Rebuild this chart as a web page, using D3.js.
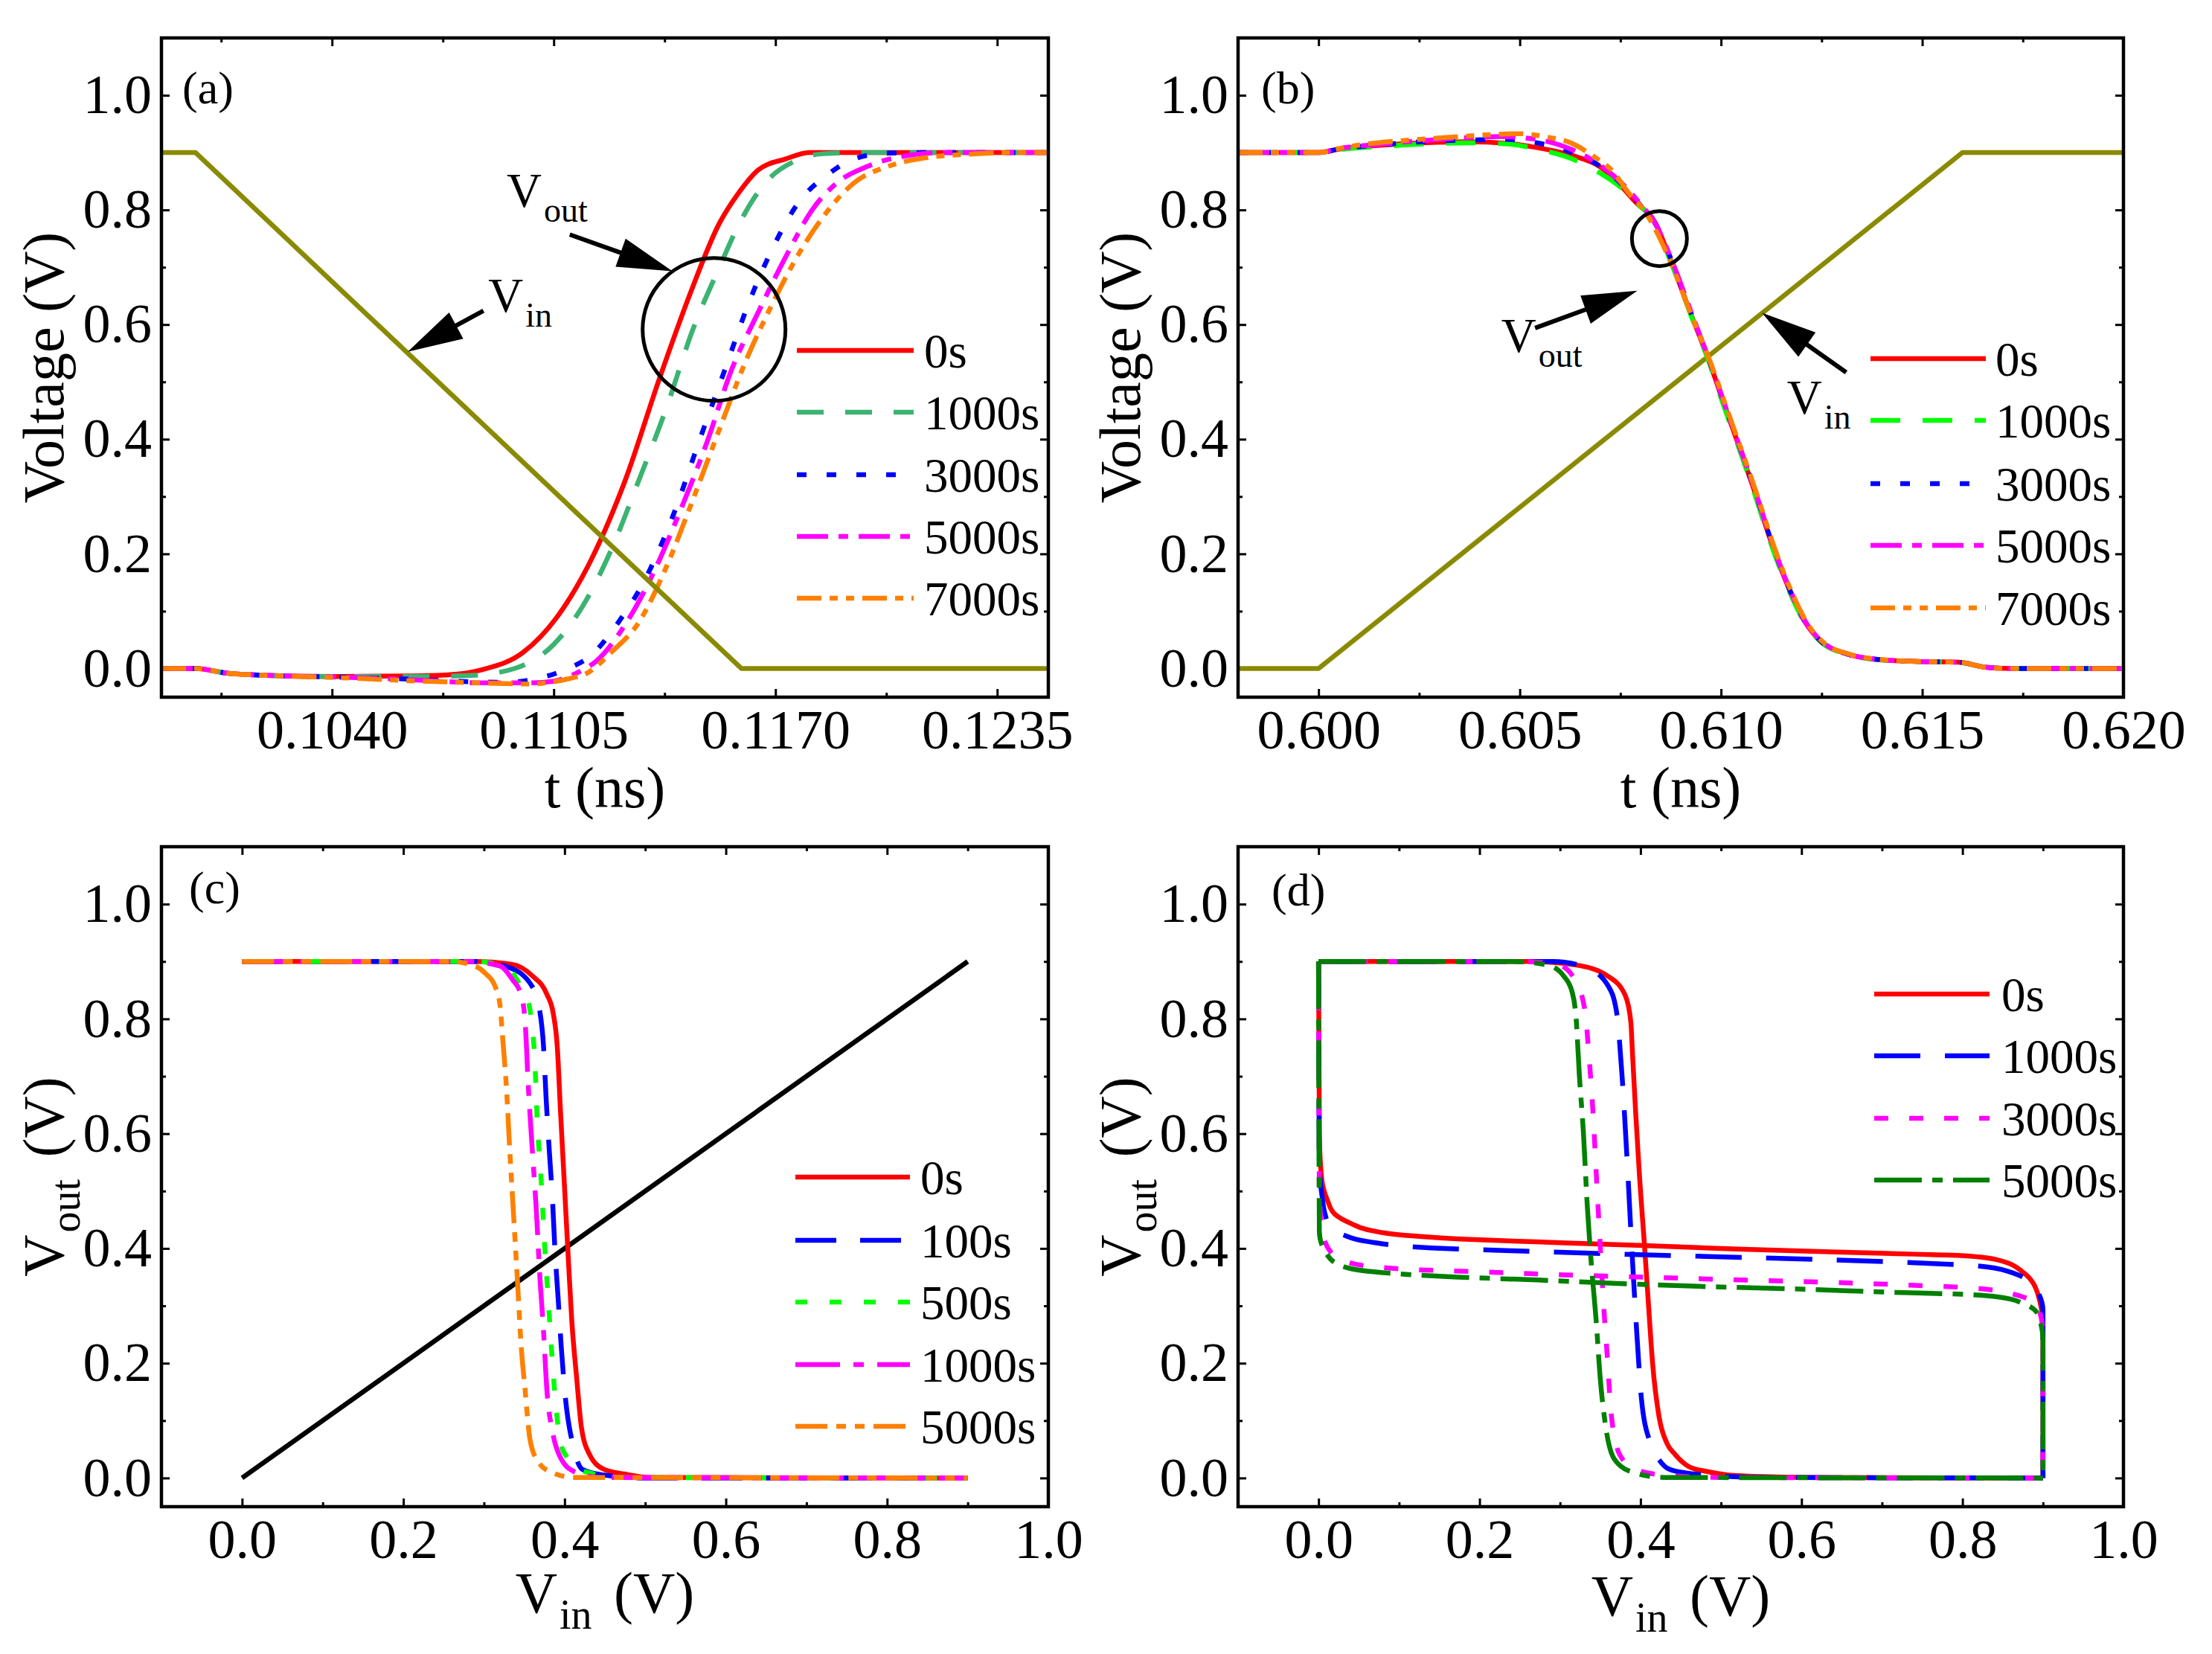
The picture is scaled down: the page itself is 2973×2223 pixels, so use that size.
<!DOCTYPE html>
<html>
<head>
<meta charset="utf-8">
<script src="https://cdn.jsdelivr.net/npm/d3@7/dist/d3.min.js"></script>
<style>
body { margin: 0; background: #fff; }
</style>
</head>
<body>
<script>
var W = 2973, H = 2223;
var FONT = '"Liberation Serif", "Times New Roman", serif';

// ---------- data ----------
// (a) falling input, t in ns
var vinA = [[0.099, 0.9], [0.100, 0.9], [0.116, 0], [0.125, 0]];
var outA0 = [[0.0990, 0], [0.1000, 0], [0.1009, -0.008], [0.1021, -0.012], [0.1042, -0.014], [0.1062, -0.013], [0.1074, -0.011], [0.1084, -0.002], [0.1096, 0.028], [0.1106, 0.09], [0.1116, 0.19], [0.1126, 0.329], [0.1136, 0.506], [0.1145, 0.654], [0.11535, 0.776], [0.1159, 0.828], [0.1165, 0.87], [0.1173, 0.889], [0.1180, 0.9], [0.125, 0.9]];
var outA1000 = [[0.0990, 0], [0.1000, 0], [0.1009, -0.008], [0.1021, -0.012], [0.1042, -0.014], [0.1067, -0.014], [0.1081, -0.012], [0.1094, 0.001], [0.1105, 0.042], [0.11145, 0.119], [0.1122, 0.209], [0.1130, 0.329], [0.1138, 0.454], [0.11457, 0.59], [0.11535, 0.699], [0.1160, 0.783], [0.1167, 0.847], [0.1176, 0.886], [0.1184, 0.898], [0.1195, 0.9], [0.125, 0.9]];
var outA3000 = [[0.0990, 0], [0.1000, 0], [0.1009, -0.008], [0.1021, -0.012], [0.1042, -0.015], [0.1065, -0.019], [0.1080, -0.023], [0.1091, -0.024], [0.1099, -0.019], [0.1108, -0.003], [0.11165, 0.026], [0.1124, 0.081], [0.1132, 0.158], [0.1140, 0.267], [0.11476, 0.396], [0.11554, 0.525], [0.1162, 0.635], [0.1169, 0.731], [0.1177, 0.815], [0.1185, 0.86], [0.1193, 0.889], [0.1203, 0.899], [0.1215, 0.9], [0.125, 0.9]];
var outA5000 = [[0.0990, 0], [0.1000, 0], [0.1009, -0.008], [0.1021, -0.012], [0.1042, -0.015], [0.1065, -0.02], [0.1084, -0.025], [0.1098, -0.025], [0.1105, -0.022], [0.1109, -0.015], [0.1113, -0.004], [0.11175, 0.013], [0.1125, 0.068], [0.1134, 0.164], [0.1142, 0.274], [0.1150, 0.396], [0.1157, 0.519], [0.1165, 0.622], [0.1173, 0.718], [0.1181, 0.802], [0.1188, 0.847], [0.1197, 0.876], [0.1206, 0.892], [0.1220, 0.9], [0.125, 0.9]];
var outA7000 = [[0.0990, 0], [0.1000, 0], [0.1009, -0.008], [0.1021, -0.012], [0.1042, -0.016], [0.1066, -0.022], [0.1077, -0.024], [0.1098, -0.027], [0.1105, -0.023], [0.1110, -0.017], [0.11145, -0.009], [0.1122, 0.029], [0.1130, 0.081], [0.1138, 0.177], [0.11457, 0.293], [0.11535, 0.416], [0.1161, 0.532], [0.1169, 0.635], [0.1177, 0.725], [0.1185, 0.796], [0.1193, 0.847], [0.1203, 0.876], [0.1214, 0.891], [0.1226, 0.897], [0.1240, 0.9], [0.125, 0.9]];

// (b) rising input
var vinB = [[0.598, 0], [0.600, 0], [0.616, 0.9], [0.620, 0.9]];
var outB0 = [[0.598, 0.9], [0.600, 0.9], [0.6005, 0.906], [0.6016, 0.913], [0.6026, 0.917], [0.6037, 0.919], [0.6047, 0.916], [0.6054, 0.909], [0.6063, 0.895], [0.6070, 0.875], [0.6075, 0.843], [0.6079, 0.812], [0.60834, 0.781], [0.60875, 0.712], [0.60927, 0.615], [0.60969, 0.539], [0.6101, 0.456], [0.61042, 0.393], [0.61083, 0.31], [0.61125, 0.22], [0.61166, 0.144], [0.61208, 0.082], [0.61249, 0.047], [0.61311, 0.026], [0.61384, 0.016], [0.6150, 0.012], [0.6159, 0.011], [0.6165, 0.003], [0.6172, 0], [0.620, 0]];
var outB1000 = [[0.598, 0.9], [0.600, 0.9], [0.6005, 0.905], [0.6016, 0.911], [0.6026, 0.915], [0.6037, 0.917], [0.6047, 0.915], [0.6055, 0.905], [0.6063, 0.889], [0.6070, 0.864], [0.6075, 0.84], [0.6079, 0.812], [0.60834, 0.779], [0.60875, 0.71], [0.60927, 0.613], [0.60969, 0.537], [0.6101, 0.452], [0.61042, 0.39], [0.61083, 0.306], [0.61125, 0.216], [0.61166, 0.141], [0.61208, 0.08], [0.61249, 0.046], [0.61311, 0.025], [0.61384, 0.016], [0.6150, 0.012], [0.6159, 0.011], [0.6166, 0.002], [0.6173, 0], [0.620, 0]];
var outB3000 = [[0.598, 0.9], [0.600, 0.9], [0.6005, 0.906], [0.6016, 0.914], [0.6026, 0.919], [0.6037, 0.922], [0.6047, 0.923], [0.6055, 0.916], [0.6063, 0.9], [0.6070, 0.876], [0.6076, 0.84], [0.6080, 0.808], [0.60838, 0.775], [0.60878, 0.71], [0.6093, 0.612], [0.60972, 0.535], [0.61013, 0.452], [0.61045, 0.389], [0.61086, 0.306], [0.61128, 0.216], [0.61169, 0.14], [0.61211, 0.079], [0.61252, 0.045], [0.61314, 0.025], [0.61387, 0.016], [0.6150, 0.012], [0.6159, 0.011], [0.6166, 0.002], [0.6173, 0], [0.620, 0]];
var outB5000 = [[0.598, 0.9], [0.600, 0.9], [0.6005, 0.907], [0.6016, 0.915], [0.6026, 0.921], [0.6037, 0.926], [0.6045, 0.928], [0.6055, 0.922], [0.6063, 0.905], [0.6070, 0.878], [0.6076, 0.842], [0.6080, 0.81], [0.6084, 0.772], [0.6088, 0.708], [0.60932, 0.61], [0.60974, 0.532], [0.61015, 0.449], [0.61047, 0.386], [0.61088, 0.303], [0.6113, 0.213], [0.61171, 0.138], [0.61213, 0.078], [0.61254, 0.045], [0.61316, 0.025], [0.61389, 0.016], [0.6150, 0.012], [0.6159, 0.011], [0.6166, 0.002], [0.6173, 0], [0.620, 0]];
var outB7000 = [[0.598, 0.9], [0.600, 0.9], [0.6005, 0.907], [0.6011, 0.914], [0.6021, 0.921], [0.6031, 0.926], [0.6042, 0.931], [0.6050, 0.933], [0.6056, 0.928], [0.6063, 0.916], [0.6068, 0.895], [0.6073, 0.868], [0.6077, 0.83], [0.6081, 0.798], [0.60865, 0.725], [0.60927, 0.615], [0.60976, 0.53], [0.61018, 0.446], [0.6105, 0.383], [0.61091, 0.3], [0.61133, 0.21], [0.61174, 0.136], [0.61216, 0.077], [0.61257, 0.044], [0.61319, 0.025], [0.61392, 0.016], [0.6150, 0.012], [0.6159, 0.011], [0.6166, 0.002], [0.6173, 0], [0.620, 0]];

// (c) transfer curves, Vin vs Vout
var unityLine = [[0, 0], [0.9, 0.9]];
var vtcC0 = [[0, 0.9], [0.289, 0.9], [0.335, 0.895], [0.36, 0.875], [0.378, 0.843], [0.386, 0.809], [0.391, 0.75], [0.395, 0.637], [0.4, 0.505], [0.405, 0.372], [0.409, 0.273], [0.415, 0.174], [0.421, 0.087], [0.431, 0.041], [0.449, 0.015], [0.474, 0.007], [0.505, 0.001], [0.9, 0]];
var vtcC100 = [[0, 0.9], [0.289, 0.9], [0.332, 0.889], [0.36, 0.856], [0.369, 0.816], [0.374, 0.75], [0.377, 0.664], [0.381, 0.571], [0.385, 0.485], [0.388, 0.399], [0.392, 0.313], [0.396, 0.226], [0.401, 0.14], [0.411, 0.054], [0.422, 0.015], [0.449, 0.005], [0.5, 0], [0.9, 0]];
var vtcC500 = [[0, 0.9], [0.289, 0.9], [0.329, 0.889], [0.346, 0.856], [0.354, 0.836], [0.36, 0.783], [0.363, 0.73], [0.366, 0.624], [0.371, 0.518], [0.375, 0.412], [0.38, 0.306], [0.385, 0.2], [0.391, 0.101], [0.398, 0.048], [0.425, 0.011], [0.475, 0.001], [0.9, 0]];
var vtcC1000 = [[0, 0.9], [0.28, 0.9], [0.32, 0.892], [0.335, 0.869], [0.346, 0.842], [0.351, 0.796], [0.355, 0.683], [0.36, 0.571], [0.365, 0.465], [0.369, 0.359], [0.374, 0.253], [0.378, 0.154], [0.385, 0.081], [0.394, 0.038], [0.412, 0.011], [0.443, 0.001], [0.9, 0]];
var vtcC5000 = [[0, 0.9], [0.26, 0.9], [0.289, 0.892], [0.302, 0.879], [0.314, 0.856], [0.32, 0.823], [0.323, 0.77], [0.328, 0.677], [0.332, 0.571], [0.337, 0.452], [0.342, 0.332], [0.346, 0.233], [0.351, 0.154], [0.357, 0.068], [0.366, 0.031], [0.382, 0.011], [0.412, 0.001], [0.9, 0]];

// (d) butterfly: each VTC is drawn as is and mirrored
var vtcD0 = [[0, 0.9], [0.263, 0.9], [0.319, 0.894], [0.36, 0.874], [0.381, 0.841], [0.388, 0.794], [0.39, 0.74], [0.394, 0.636], [0.399, 0.52], [0.405, 0.404], [0.41, 0.3], [0.415, 0.2], [0.423, 0.107], [0.433, 0.06], [0.443, 0.041], [0.46, 0.02], [0.484, 0.011], [0.52, 0.004], [0.6, 0.001], [0.9, 0]];
var vtcD1000 = [[0, 0.9], [0.291, 0.9], [0.332, 0.89], [0.36, 0.857], [0.37, 0.814], [0.377, 0.702], [0.384, 0.537], [0.389, 0.404], [0.396, 0.239], [0.401, 0.14], [0.412, 0.061], [0.424, 0.03], [0.436, 0.015], [0.46, 0.008], [0.484, 0.005], [0.55, 0.001], [0.9, 0]];
var vtcD3000 = [[0, 0.9], [0.25, 0.9], [0.298, 0.894], [0.319, 0.867], [0.331, 0.814], [0.336, 0.735], [0.341, 0.636], [0.346, 0.504], [0.35, 0.404], [0.354, 0.305], [0.359, 0.206], [0.363, 0.12], [0.368, 0.07], [0.374, 0.041], [0.394, 0.015], [0.429, 0.005], [0.5, 0.001], [0.9, 0]];
var vtcD5000 = [[0, 0.9], [0.24, 0.9], [0.284, 0.894], [0.305, 0.874], [0.315, 0.847], [0.32, 0.801], [0.324, 0.702], [0.329, 0.603], [0.334, 0.471], [0.339, 0.371], [0.345, 0.272], [0.35, 0.173], [0.357, 0.087], [0.367, 0.034], [0.388, 0.011], [0.429, 0.001], [0.9, 0]];

var labelsAB = ["0s", "1000s", "3000s", "5000s", "7000s"];
var labelsC = ["0s", "100s", "500s", "1000s", "5000s"];
var labelsD = ["0s", "1000s", "3000s", "5000s"];

var yMajor = [0, 0.2, 0.4, 0.6, 0.8, 1.0];
var yMinor = [0.1, 0.3, 0.5, 0.7, 0.9];

// annotation anchors, data coordinates
var arrowsA = [[[0.11097, 0.757], [0.11398, 0.693]], [[0.10844, 0.624], [0.10622, 0.5526]]];
var textA = [[0.10912, 0.805, "out"], [0.10858, 0.622, "in"]];
var ringA = [0.1152, 0.5915];
var arrowsB = [[[0.60538, 0.594], [0.60792, 0.659]], [[0.61311, 0.5166], [0.61102, 0.6205]]];
var textB = [[0.60454, 0.5526, "out"], [0.61164, 0.445, "in"]];
var ringB = [0.60847, 0.75];

// ---------- styles ----------
var RED = "#ff0000", BLUE = "#0000ff", MAG = "#ff00ff", ORG = "#ff8000", OLIVE = "#8a8a00";
var stylesA = [
    {color: RED, dash: null},
    {color: "#3cb371", dash: "36,29"},
    {color: BLUE, dash: "13,27"},
    {color: MAG, dash: "42,14,13,14"},
    {color: ORG, dash: "33,11,11,11,11,11"}
];
var stylesB = [
    {color: RED, dash: null},
    {color: "#00ff00", dash: "40,30"},
    {color: BLUE, dash: "13,27"},
    {color: MAG, dash: "42,14,13,14"},
    {color: ORG, dash: "33,11,11,11,11,11"}
];
var stylesC = [
    {color: RED, dash: null},
    {color: BLUE, dash: "55,32"},
    {color: "#00ff00", dash: "16,30"},
    {color: MAG, dash: "60,18,14,18"},
    {color: ORG, dash: "43,12,13,12,13,12"}
];
var stylesD = [
    {color: RED, dash: null},
    {color: BLUE, dash: "62,33"},
    {color: MAG, dash: "19,28"},
    {color: "#008000", dash: "64,14,14,14"}
];
var straight = {color: OLIVE, dash: null, linear: true};

var svg = d3.select("body")
    .append("svg")
    .attr("width", W)
    .attr("height", H)
    .style("background", "#fff");

function setupPanel(p) {
    var x = d3.scaleLinear().domain(p.xd).range([p.x0, p.x1]);
    var y = d3.scaleLinear().domain([-0.05, 1.1]).range([p.y1, p.y0]);
    var g = svg.append("g");

    g.append("g").attr("class", "ax").attr("transform", "translate(0," + p.y1 + ")")
        .call(d3.axisBottom(x).tickValues(p.xt).tickFormat(d3.format(p.xf))
            .tickSizeInner(-11).tickSizeOuter(0).tickPadding(16));
    g.append("g").attr("class", "ax").attr("transform", "translate(0," + p.y1 + ")")
        .call(d3.axisBottom(x).tickValues(p.xm).tickFormat("").tickSizeInner(-6).tickSizeOuter(0));
    g.append("g").attr("class", "ax").attr("transform", "translate(0," + p.y0 + ")")
        .call(d3.axisTop(x).tickValues(p.xt).tickFormat("").tickSizeInner(-11).tickSizeOuter(0));
    g.append("g").attr("class", "ax").attr("transform", "translate(0," + p.y0 + ")")
        .call(d3.axisTop(x).tickValues(p.xm).tickFormat("").tickSizeInner(-6).tickSizeOuter(0));
    g.append("g").attr("class", "ax").attr("transform", "translate(" + p.x0 + ",0)")
        .call(d3.axisLeft(y).tickValues(yMajor).tickFormat(d3.format(".1f"))
            .tickSizeInner(-11).tickSizeOuter(0).tickPadding(13));
    g.append("g").attr("class", "ax").attr("transform", "translate(" + p.x0 + ",0)")
        .call(d3.axisLeft(y).tickValues(yMinor).tickFormat("").tickSizeInner(-6).tickSizeOuter(0));
    g.append("g").attr("class", "ax").attr("transform", "translate(" + p.x1 + ",0)")
        .call(d3.axisRight(y).tickValues(yMajor).tickFormat("").tickSizeInner(-11).tickSizeOuter(0));
    g.append("g").attr("class", "ax").attr("transform", "translate(" + p.x1 + ",0)")
        .call(d3.axisRight(y).tickValues(yMinor).tickFormat("").tickSizeInner(-6).tickSizeOuter(0));

    g.selectAll(".ax .domain").remove();
    g.selectAll(".ax line").attr("stroke", "#000").attr("stroke-width", 3);
    g.selectAll(".ax text")
        .attr("font-size", 74)
        .attr("font-family", FONT)
        .attr("fill", "#000");

    var plot = g.append("g");
    var top = g.append("g");

    top.append("rect")
        .attr("x", p.x0).attr("y", p.y0)
        .attr("width", p.x1 - p.x0).attr("height", p.y1 - p.y0)
        .attr("fill", "none").attr("stroke", "#000").attr("stroke-width", 4.5);

    top.append("text")
        .attr("x", p.x0 + p.labX).attr("y", p.labY)
        .attr("font-family", FONT).attr("font-size", 62)
        .text(p.label);

    return {x: x, y: y, g: plot, top: top, p: p};
}

// axis title with optional subscript
function title(P, parts, horizontal) {
    var p = P.p, t;
    if (horizontal) {
        t = P.top.append("text")
            .attr("x", (p.x0 + p.x1) / 2).attr("y", p.y1 + p.titleDy);
    } else {
        t = P.top.append("text")
            .attr("transform", "translate(" + (p.x0 - 132) + "," + ((p.y0 + p.y1) / 2) + ") rotate(-90)");
    }
    t.attr("text-anchor", "middle").attr("font-family", FONT).attr("font-size", 78);
    t.append("tspan").text(parts[0]);
    if (parts.length > 1) {
        t.append("tspan").attr("font-size", 56).attr("dy", 22).attr("dx", 3).text(parts[1]);
        t.append("tspan").attr("dy", -22).attr("dx", 10).text(parts[2]);
    }
}

function drawCurve(P, pts, st, mirror) {
    var gen;
    if (mirror) {
        gen = d3.line().x(function (d) { return P.x(d[1]); })
            .y(function (d) { return P.y(d[0]); })
            .curve(d3.curveMonotoneY);
        pts = pts.slice().reverse();
    } else {
        gen = d3.line().x(function (d) { return P.x(d[0]); })
            .y(function (d) { return P.y(d[1]); })
            .curve(st.linear ? d3.curveLinear : d3.curveMonotoneX);
    }
    P.g.append("path")
        .datum(pts)
        .attr("d", gen)
        .attr("fill", "none")
        .attr("stroke", st.color)
        .attr("stroke-width", 6.5)
        .attr("stroke-linejoin", "round")
        .attr("stroke-dasharray", st.dash);
}

function legend(P, labels, styles, L) {
    var p = P.p;
    labels.forEach(function (lab, i) {
        var yy = p.y0 + L.rows[i];
        P.top.append("line")
            .attr("x1", p.x0 + L.lx0).attr("x2", p.x0 + L.lx1)
            .attr("y1", yy).attr("y2", yy)
            .attr("stroke", styles[i].color).attr("stroke-width", 6.5)
            .attr("stroke-dasharray", styles[i].dash);
        P.top.append("text")
            .attr("x", p.x0 + L.tx).attr("y", yy).attr("dy", "0.35em")
            .attr("font-family", FONT).attr("font-size", 65)
            .text(lab);
    });
}

function arrow(P, a) {
    var x1 = P.x(a[0][0]), y1 = P.y(a[0][1]), x2 = P.x(a[1][0]), y2 = P.y(a[1][1]);
    var dx = x2 - x1, dy = y2 - y1, len = Math.sqrt(dx * dx + dy * dy);
    var ux = dx / len, uy = dy / len, hl = 74, hw = 20;
    var bx = x2 - ux * hl, by = y2 - uy * hl;
    P.top.append("line")
        .attr("x1", x1).attr("y1", y1).attr("x2", bx + ux * 6).attr("y2", by + uy * 6)
        .attr("stroke", "#000").attr("stroke-width", 6);
    P.top.append("polygon")
        .attr("points", [[x2, y2], [bx - uy * hw, by + ux * hw], [bx + uy * hw, by - ux * hw]].join(" "))
        .attr("fill", "#000");
}

function note(P, t) {
    var el = P.top.append("text")
        .attr("x", P.x(t[0])).attr("y", P.y(t[1]))
        .attr("font-family", FONT).attr("font-size", 65);
    el.append("tspan").text("V");
    el.append("tspan").attr("font-size", 46).attr("dy", 20).attr("dx", 3).text(t[2]);
}

function ring(P, c, r) {
    P.top.append("circle")
        .attr("cx", P.x(c[0])).attr("cy", P.y(c[1])).attr("r", r)
        .attr("fill", "none").attr("stroke", "#000").attr("stroke-width", 5);
}

// ---------- panel (a) ----------
var A = setupPanel({x0: 217, x1: 1409, y0: 51, y1: 937, xd: [0.099, 0.125],
    xt: [0.1040, 0.1105, 0.1170, 0.1235], xm: [0.10075, 0.10725, 0.11375, 0.12025], xf: ".4f",
    label: "(a)", labX: 28, labY: 139, titleDy: 148});
[outA0, outA1000, outA3000, outA5000, outA7000].forEach(function (s, i) { drawCurve(A, s, stylesA[i]); });
drawCurve(A, vinA, straight);
title(A, ["t (ns)"], true);
title(A, ["Voltage (V)"], false);
legend(A, labelsAB, stylesA, {lx0: 854, lx1: 1011, tx: 1025, rows: [420, 503, 587, 670, 753]});
arrowsA.forEach(function (a) { arrow(A, a); });
textA.forEach(function (t) { note(A, t); });
ring(A, ringA, 96);

// ---------- panel (b) ----------
var B = setupPanel({x0: 1664, x1: 2854, y0: 51, y1: 937, xd: [0.598, 0.620],
    xt: [0.600, 0.605, 0.610, 0.615, 0.620], xm: [0.6025, 0.6075, 0.6125, 0.6175], xf: ".3f",
    label: "(b)", labX: 31, labY: 139, titleDy: 148});
drawCurve(B, vinB, straight);
[outB0, outB1000, outB3000, outB5000, outB7000].forEach(function (s, i) { drawCurve(B, s, stylesB[i]); });
title(B, ["t (ns)"], true);
title(B, ["Voltage (V)"], false);
legend(B, labelsAB, stylesB, {lx0: 850, lx1: 1005, tx: 1018, rows: [431, 514, 599, 682, 766]});
arrowsB.forEach(function (a) { arrow(B, a); });
textB.forEach(function (t) { note(B, t); });
ring(B, ringB, 37);

// ---------- panel (c) ----------
var C = setupPanel({x0: 217, x1: 1409, y0: 1138, y1: 2025, xd: [-0.1, 1.0],
    xt: [0, 0.2, 0.4, 0.6, 0.8, 1.0], xm: [0.1, 0.3, 0.5, 0.7, 0.9], xf: ".1f",
    label: "(c)", labX: 37, labY: 1214, titleDy: 142});
drawCurve(C, unityLine, {color: "#000", dash: null, linear: true});
[vtcC0, vtcC100, vtcC500, vtcC1000, vtcC5000].forEach(function (s, i) { drawCurve(C, s, stylesC[i]); });
title(C, ["V", "in", " (V)"], true);
title(C, ["V", "out", " (V)"], false);
legend(C, labelsC, stylesC, {lx0: 852, lx1: 1006, tx: 1020, rows: [444, 529, 612, 696, 779]});

// ---------- panel (d) ----------
var D = setupPanel({x0: 1664, x1: 2854, y0: 1138, y1: 2025, xd: [-0.1, 1.0],
    xt: [0, 0.2, 0.4, 0.6, 0.8, 1.0], xm: [0.1, 0.3, 0.5, 0.7, 0.9], xf: ".1f",
    label: "(d)", labX: 45, labY: 1217, titleDy: 146});
[vtcD0, vtcD1000, vtcD3000, vtcD5000].forEach(function (s, i) {
    drawCurve(D, s, stylesD[i], false);
    drawCurve(D, s, stylesD[i], true);
});
title(D, ["V", "in", " (V)"], true);
title(D, ["V", "out", " (V)"], false);
legend(D, labelsD, stylesD, {lx0: 855, lx1: 1010, tx: 1026, rows: [198, 281, 365, 448]});
</script>
</body>
</html>
